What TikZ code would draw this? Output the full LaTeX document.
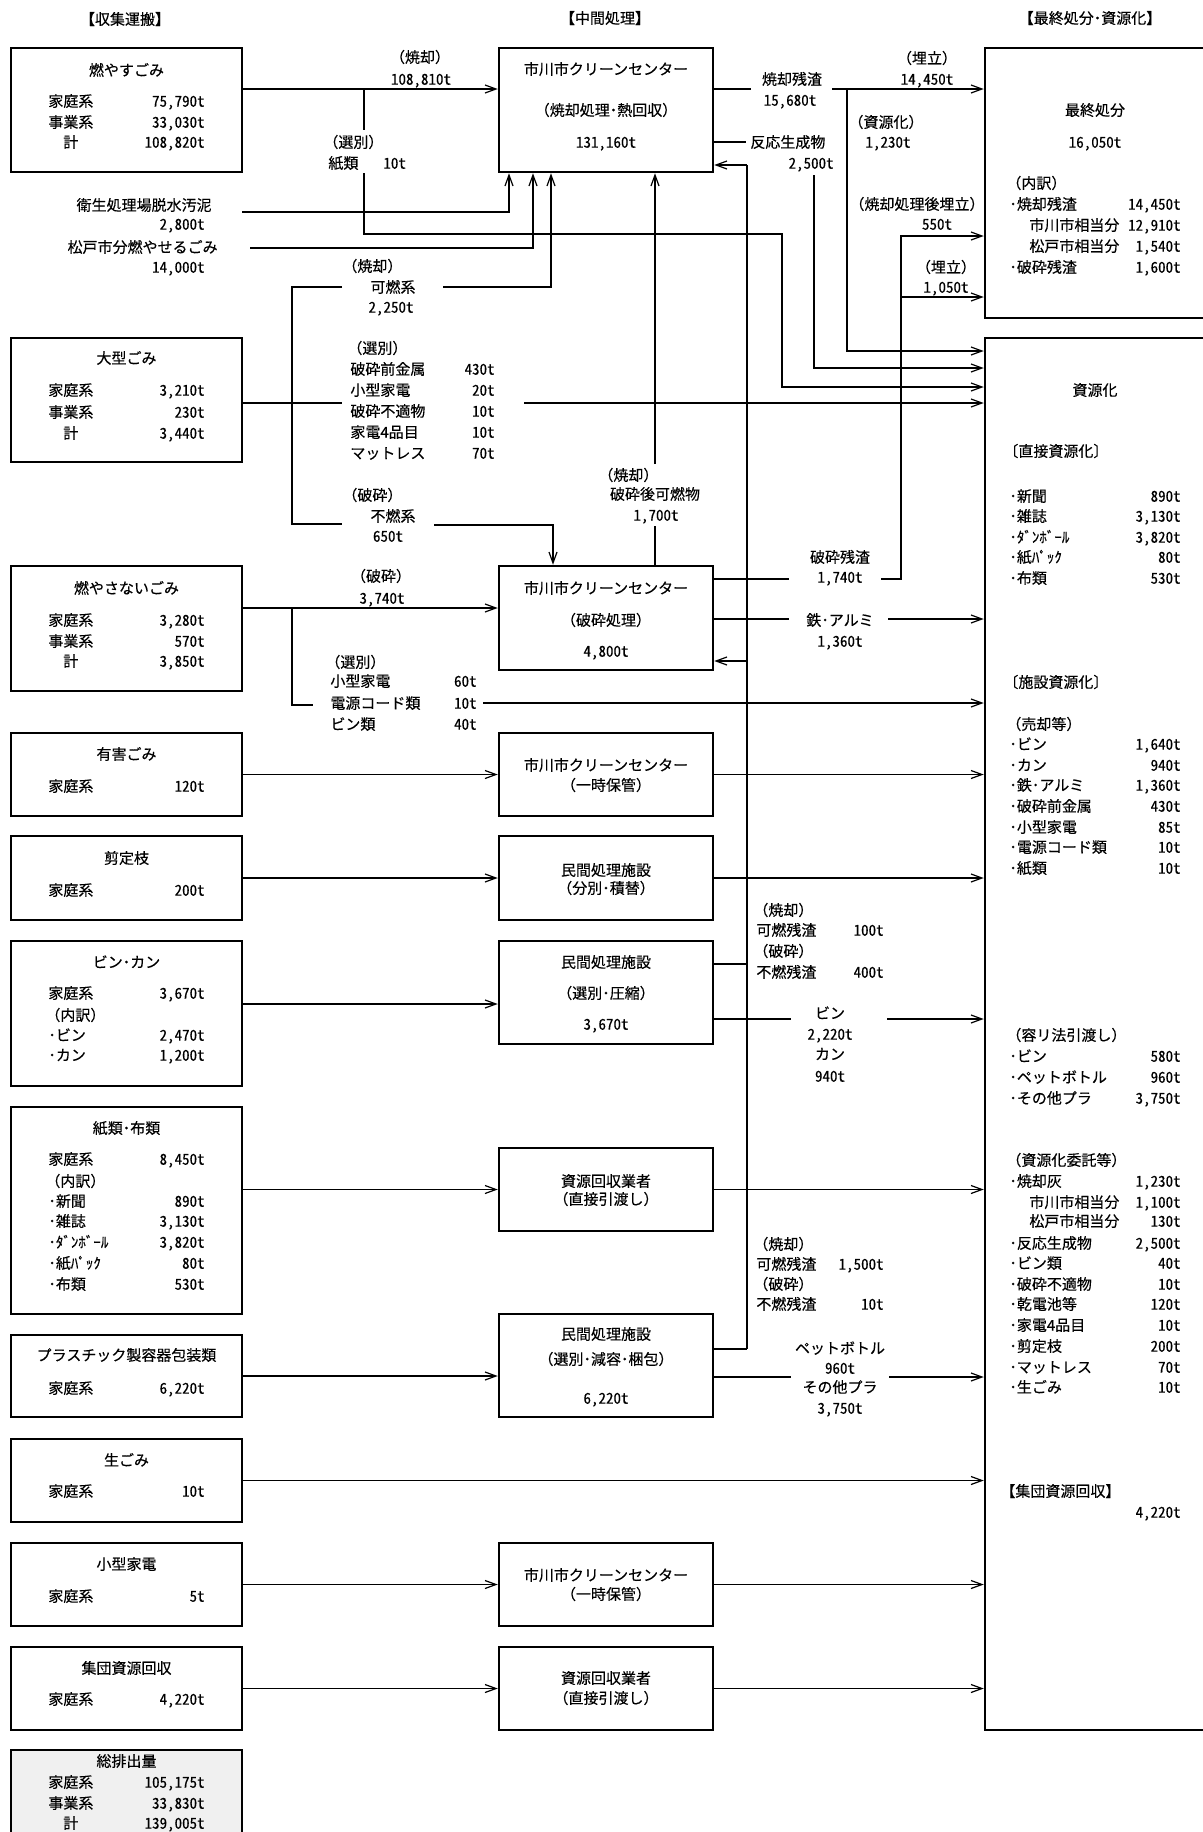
\documentclass[tikz,border=0pt]{standalone}
\usepackage{fontspec}
\setmainfont[FakeBold=0.3]{Noto Sans CJK JP}
\newfontfamily\numfont[CharacterWidth=Half,FakeBold=0.3]{Noto Sans CJK JP}
\usetikzlibrary{arrows.meta}

% box between corners (#3,#4) and (#5,#6), sheet pixels
\newcommand{\flowbox}[6][]{%
  \node[box,#1,minimum width={(#5-#3)*0.5pt},minimum height={(#6-#4)*0.5pt}]
    (#2) at ({(#3+#5)/2},{(#4+#6)/2}) {};}
% label left, tonnage right
\newcommand{\tonrow}[6]{%
  \node[anchor=west] (#1a) at (#2,#4) {#5};
  \node[num,anchor=east] (#1b) at (#3,#4) {#6};}

\begin{document}
\begin{tikzpicture}[x=0.5pt,y=-0.5pt,
  every node/.style={font=\fontsize{7.5pt}{9pt}\selectfont,inner sep=0pt,
    text height=6.6pt,text depth=0.9pt},
  num/.style={font=\fontsize{7.5pt}{9pt}\numfont},
  box/.style={draw,line width=1.25pt},
  flow/.style={line width=0.6pt},
  arr/.style={flow,-{Straight Barb[length=5.5pt,width=4pt]}}]
\useasboundingbox (0,0) rectangle (1203,1832);

% headings
\node (hcol1) at (125,19) {【収集運搬】};
\node (hcol2) at (605,18) {【中間処理】};
\node (hcol3) at (1090,18) {【最終処分･資源化】};

% collection
\flowbox{burn}{11}{48}{242}{172}
\node (burnt) at (126.5,70) {燃やすごみ};
\tonrow{burn1}{48}{205}{101}{家庭系}{75,790t}
\tonrow{burn2}{48}{205}{122}{事業系}{33,030t}
\tonrow{burn3}{63}{205}{142}{計}{108,820t}
\node[anchor=east] (sludge) at (212,205) {衛生処理場脱水汚泥};
\node[num,anchor=east] (sludgev) at (205,224) {2,800t};
\node[anchor=east] (matsudo) at (218,247) {松戸市分燃やせるごみ};
\node[num,anchor=east] (matsudov) at (205,267) {14,000t};

\flowbox{bulky}{11}{338}{242}{462}
\node (bulkyt) at (126.5,358) {大型ごみ};
\tonrow{bulky1}{48}{205}{390}{家庭系}{3,210t}
\tonrow{bulky2}{48}{205}{412}{事業系}{230t}
\tonrow{bulky3}{63}{205}{433}{計}{3,440t}

\flowbox{nonburn}{11}{566}{242}{691}
\node (nonburnt) at (126.5,588) {燃やさないごみ};
\tonrow{nonburn1}{48}{205}{620}{家庭系}{3,280t}
\tonrow{nonburn2}{48}{205}{641}{事業系}{570t}
\tonrow{nonburn3}{63}{205}{661}{計}{3,850t}

\flowbox{hazard}{11}{733}{242}{816}
\node (hazardt) at (126.5,754) {有害ごみ};
\tonrow{hazard1}{48}{205}{786}{家庭系}{120t}

\flowbox{prune}{11}{836}{242}{920}
\node (prunet) at (126.5,858) {剪定枝};
\tonrow{prune1}{48}{205}{890}{家庭系}{200t}

\flowbox{bottle}{11}{941}{242}{1086}
\node (bottlet) at (126.5,962) {ビン･カン};
\tonrow{bottle1}{48}{205}{993}{家庭系}{3,670t}
\node[anchor=west] (bottle2a) at (45,1015) {（内訳）};
\tonrow{bottle3}{48}{205}{1035}{･ビン}{2,470t}
\tonrow{bottle4}{48}{205}{1055}{･カン}{1,200t}

\flowbox{paper}{11}{1107}{242}{1314}
\node (papert) at (126.5,1128) {紙類･布類};
\tonrow{paper1}{48}{205}{1159}{家庭系}{8,450t}
\node[anchor=west] (paper2a) at (45,1181) {（内訳）};
\tonrow{paper3}{48}{205}{1201}{･新聞}{890t}
\tonrow{paper4}{48}{205}{1221}{･雑誌}{3,130t}
\tonrow{paper5}{48}{205}{1242}{･ﾀﾞﾝﾎﾞｰﾙ}{3,820t}
\tonrow{paper6}{48}{205}{1263}{･紙ﾊﾟｯｸ}{80t}
\tonrow{paper7}{48}{205}{1284}{･布類}{530t}

\flowbox{plastic}{11}{1335}{242}{1417}
\node (plastict) at (126.5,1355) {プラスチック製容器包装類};
\tonrow{plastic1}{48}{205}{1388}{家庭系}{6,220t}

\flowbox{food}{11}{1439}{242}{1522}
\node (foodt) at (126.5,1460) {生ごみ};
\tonrow{food1}{48}{205}{1491}{家庭系}{10t}

\flowbox{smallapp}{11}{1543}{242}{1626}
\node (smallappt) at (126.5,1564) {小型家電};
\tonrow{smallapp1}{48}{205}{1596}{家庭系}{5t}

\flowbox{group}{11}{1647}{242}{1730}
\node (groupt) at (126.5,1668) {集団資源回収};
\tonrow{group1}{48}{205}{1699}{家庭系}{4,220t}

\flowbox[fill=black!6]{total}{11}{1750}{242}{1846}
\node (totalt) at (126.5,1761) {総排出量};
\tonrow{total1}{48}{205}{1782}{家庭系}{105,175t}
\tonrow{total2}{48}{205}{1803}{事業系}{33,830t}
\tonrow{total3}{63}{205}{1823}{計}{139,005t}

% intermediate treatment
\flowbox{incin}{499}{48}{713}{172}
\node (incint) at (606,69) {市川市クリーンセンター};
\node (incinm) at (606,110) {（焼却処理･熱回収）};
\node[num] (incinv) at (606,142) {131,160t};

\flowbox{crush}{499}{566}{713}{670}
\node (crusht) at (606,588) {市川市クリーンセンター};
\node (crushm) at (606,620) {（破砕処理）};
\node[num] (crushv) at (606,651) {4,800t};

\flowbox{storeA}{499}{733}{713}{816}
\node (storeAt) at (606,765) {市川市クリーンセンター};
\node (storeAm) at (606,785) {（一時保管）};

\flowbox{sortA}{499}{836}{713}{920}
\node (sortAt) at (606,870) {民間処理施設};
\node (sortAm) at (606,888) {（分別･積替）};

\flowbox{sortB}{499}{941}{713}{1044}
\node (sortBt) at (606,962) {民間処理施設};
\node (sortBm) at (606,993) {（選別･圧縮）};
\node[num] (sortBv) at (606,1024) {3,670t};

\flowbox{dealerA}{499}{1148}{713}{1231}
\node (dealerAt) at (606,1181) {資源回収業者};
\node (dealerAm) at (606,1199) {（直接引渡し）};

\flowbox{sortC}{499}{1314}{713}{1417}
\node (sortCt) at (606,1334) {民間処理施設};
\node (sortCm) at (606,1359) {（選別･減容･梱包）};
\node[num] (sortCv) at (606,1398) {6,220t};

\flowbox{storeB}{499}{1543}{713}{1626}
\node (storeBt) at (606,1575) {市川市クリーンセンター};
\node (storeBm) at (606,1594) {（一時保管）};

\flowbox{dealerB}{499}{1647}{713}{1730}
\node (dealerBt) at (606,1678) {資源回収業者};
\node (dealerBm) at (606,1698) {（直接引渡し）};

% final disposal, recycling
\flowbox{landfill}{985}{48}{1220}{318}
\node (landfillt) at (1095,110) {最終処分};
\node[num] (landfillv) at (1095,142) {16,050t};
\node[anchor=west] (landfill0) at (1006,183) {（内訳）};
\tonrow{landfill1}{1009}{1181}{204}{･焼却残渣}{14,450t}
\tonrow{landfill2}{1029}{1181}{225}{市川市相当分}{12,910t}
\tonrow{landfill3}{1029}{1181}{246}{松戸市相当分}{1,540t}
\tonrow{landfill4}{1009}{1181}{267}{･破砕残渣}{1,600t}

\flowbox{recycle}{985}{338}{1220}{1730}
\node (recyclet) at (1095,390) {資源化};
\node[anchor=west] (direct) at (1003,451) {〔直接資源化〕};
\tonrow{direct1}{1009}{1181}{496}{･新聞}{890t}
\tonrow{direct2}{1009}{1181}{516}{･雑誌}{3,130t}
\tonrow{direct3}{1009}{1181}{537}{･ﾀﾞﾝﾎﾞｰﾙ}{3,820t}
\tonrow{direct4}{1009}{1181}{557}{･紙ﾊﾟｯｸ}{80t}
\tonrow{direct5}{1009}{1181}{578}{･布類}{530t}
\node[anchor=west] (plant) at (1003,682) {〔施設資源化〕};
\node[anchor=west] (sale) at (1006,724) {（売却等）};
\tonrow{sale1}{1009}{1181}{744}{･ビン}{1,640t}
\tonrow{sale2}{1009}{1181}{765}{･カン}{940t}
\tonrow{sale3}{1009}{1181}{785}{･鉄･アルミ}{1,360t}
\tonrow{sale4}{1009}{1181}{806}{･破砕前金属}{430t}
\tonrow{sale5}{1009}{1181}{827}{･小型家電}{85t}
\tonrow{sale6}{1009}{1181}{847}{･電源コード類}{10t}
\tonrow{sale7}{1009}{1181}{868}{･紙類}{10t}
\node[anchor=west] (yori) at (1006,1035) {（容リ法引渡し）};
\tonrow{yori1}{1009}{1181}{1056}{･ビン}{580t}
\tonrow{yori2}{1009}{1181}{1077}{･ペットボトル}{960t}
\tonrow{yori3}{1009}{1181}{1098}{･その他プラ}{3,750t}
\node[anchor=west] (entrust) at (1006,1160) {（資源化委託等）};
\tonrow{entrustA}{1009}{1181}{1181}{･焼却灰}{1,230t}
\tonrow{entrustB}{1029}{1181}{1202}{市川市相当分}{1,100t}
\tonrow{entrustC}{1029}{1181}{1221}{松戸市相当分}{130t}
\tonrow{entrustD}{1009}{1181}{1243}{･反応生成物}{2,500t}
\tonrow{entrustE}{1009}{1181}{1263}{･ビン類}{40t}
\tonrow{entrustF}{1009}{1181}{1284}{･破砕不適物}{10t}
\tonrow{entrustG}{1009}{1181}{1304}{･乾電池等}{120t}
\tonrow{entrustH}{1009}{1181}{1325}{･家電4品目}{10t}
\tonrow{entrustI}{1009}{1181}{1346}{･剪定枝}{200t}
\tonrow{entrustJ}{1009}{1181}{1367}{･マットレス}{70t}
\tonrow{entrustK}{1009}{1181}{1387}{･生ごみ}{10t}
\node[anchor=west] (groupr) at (1000,1491) {【集団資源回収】};
\node[num,anchor=east] (grouprv) at (1181,1512) {4,220t};

% flow labels
\node (burnl1) at (420,57) {（焼却）};
\node[num] (burnl2) at (421,79) {108,810t};
\node[anchor=west] (kamil1) at (323,142) {（選別）};
\node[anchor=west] (kamil2) at (328,163) {紙類};
\node[num,anchor=west] (kamil3) at (383,163) {10t};
\node[anchor=west] (kanenl1) at (342,266) {（焼却）};
\node (kanenl2) at (393,287) {可燃系};
\node[num] (kanenl3) at (391,307) {2,250t};
\node[anchor=west] (bulkyl0) at (347,348) {（選別）};
\tonrow{bulkyl1}{350}{495}{369}{破砕前金属}{430t}
\tonrow{bulkyl2}{350}{495}{390}{小型家電}{20t}
\tonrow{bulkyl3}{350}{495}{411}{破砕不適物}{10t}
\tonrow{bulkyl4}{350}{495}{432}{家電4品目}{10t}
\tonrow{bulkyl5}{350}{495}{453}{マットレス}{70t}
\node[anchor=west] (funenl1) at (342,495) {（破砕）};
\node (funenl2) at (393,516) {不燃系};
\node[num] (funenl3) at (388,536) {650t};
\node (nbl1) at (381,576) {（破砕）};
\node[num] (nbl2) at (382,598) {3,740t};
\node[anchor=west] (nbl3) at (325,662) {（選別）};
\tonrow{nbl4}{330}{477}{681}{小型家電}{60t}
\tonrow{nbl5}{330}{477}{703}{電源コード類}{10t}
\tonrow{nbl6}{330}{477}{724}{ビン類}{40t}
\node (ashl1) at (792,79) {焼却残渣};
\node[num] (ashl2) at (790,100) {15,680t};
\node (ashl3) at (927,58) {（埋立）};
\node[num] (ashl4) at (927,79) {14,450t};
\node (ashl5) at (886,122) {（資源化）};
\node[num] (ashl6) at (888,142) {1,230t};
\node[anchor=west] (reacl1) at (750,142) {反応生成物};
\node[num,anchor=east] (reacl2) at (834,163) {2,500t};
\node (resl1) at (917,204) {（焼却処理後埋立）};
\node[num] (resl2) at (937,224) {550t};
\node (resl3) at (946,267) {（埋立）};
\node[num] (resl4) at (946,287) {1,050t};
\node[anchor=west] (combl1) at (598,475) {（焼却）};
\node (combl2) at (655,494) {破砕後可燃物};
\node[num] (combl3) at (656,515) {1,700t};
\node (resl5) at (840,557) {破砕残渣};
\node[num] (resl6) at (840,577) {1,740t};
\node (fel1) at (840,620) {鉄･アルミ};
\node[num] (fel2) at (840,641) {1,360t};
\node[anchor=west] (rsdA1) at (753,910) {（焼却）};
\tonrow{rsdA2}{756}{884}{930}{可燃残渣}{100t}
\node[anchor=west] (rsdA3) at (753,951) {（破砕）};
\tonrow{rsdA4}{756}{884}{972}{不燃残渣}{400t}
\node (binl1) at (830,1013) {ビン};
\node[num] (binl2) at (830,1034) {2,220t};
\node (binl3) at (830,1054) {カン};
\node[num] (binl4) at (830,1076) {940t};
\node[anchor=west] (rsdB1) at (753,1244) {（焼却）};
\tonrow{rsdB2}{756}{884}{1264}{可燃残渣}{1,500t}
\node[anchor=west] (rsdB3) at (753,1284) {（破砕）};
\tonrow{rsdB4}{756}{884}{1304}{不燃残渣}{10t}
\node (petl1) at (840,1348) {ペットボトル};
\node[num] (petl2) at (840,1368) {960t};
\node (petl3) at (840,1387) {その他プラ};
\node[num] (petl4) at (840,1408) {3,750t};

% junctions and loose ends
\coordinate (kamiA) at (364,89);
\coordinate (kamiB) at (364,130);
\coordinate (kamiC) at (364,173);
\coordinate (kamiD) at (782,234);
\coordinate (kamiE) at (782,387);
\coordinate (sanA) at (242,212);
\coordinate (sanB) at (509,212);
\coordinate (matA) at (250,248);
\coordinate (matB) at (533,248);
\coordinate (trunkT) at (292,287);
\coordinate (trunkB) at (292,524);
\coordinate (kanenL) at (342,287);
\coordinate (funenL) at (342,524);
\coordinate (kanenR) at (443,287);
\coordinate (kanenB) at (551,287);
\coordinate (funenR) at (434,525);
\coordinate (funenB) at (553,525);
\coordinate (bulkyE) at (342,403);
\coordinate (bulkyS) at (524,403);
\coordinate (nbJ) at (292,608);
\coordinate (nbE) at (313,705);
\coordinate (cordS) at (483,703);
\coordinate (ashA) at (751,89);
\coordinate (ashB) at (832,89);
\coordinate (ashJ) at (847,89);
\coordinate (ashR) at (847,351);
\coordinate (reacA) at (746,142);
\coordinate (reacB) at (814,175);
\coordinate (reacR) at (814,368);
\coordinate (retT) at (747,165);
\coordinate (retC) at (747,661);
\coordinate (retM) at (747,964);
\coordinate (retB) at (747,1349);
\coordinate (combT) at (655,464);
\coordinate (combB) at (655,526);
\coordinate (resA) at (789,579);
\coordinate (resB) at (881,579);
\coordinate (resT) at (901,236);
\coordinate (resM) at (901,297);
\coordinate (feA) at (789,619);
\coordinate (feB) at (888,619);
\coordinate (bottleY) at (242,1004);
\coordinate (binA) at (791,1019);
\coordinate (binB) at (887,1019);
\coordinate (petA) at (791,1377);
\coordinate (petB) at (889,1377);

% connectors
\draw[arr] (burn.east |- kamiA) -- (incin.west |- kamiA);
\draw[flow] (kamiA) -- (kamiB);
\draw[arr] (kamiC) |- (kamiD) |- (recycle.west |- kamiE);
\draw[arr] (sanA) -| (incin.south -| sanB);
\draw[arr] (matA) -| (incin.south -| matB);
\draw[flow] (kanenL) -- (trunkT) -- (trunkB) -- (funenL);
\draw[flow] (bulky.east |- bulkyE) -- (bulkyE);
\draw[arr] (kanenR) -| (incin.south -| kanenB);
\draw[arr] (funenR) -| (crush.north -| funenB);
\draw[arr] (bulkyS) -- (recycle.west |- bulkyS);
\draw[arr] (nonburn.east |- nbJ) -- (crush.west |- nbJ);
\draw[flow] (nbJ) |- (nbE);
\draw[arr] (cordS) -- (recycle.west |- cordS);
\draw[arr] (hazard) -- (storeA);
\draw[arr] (storeA) -- (recycle.west |- storeA);
\draw[arr] (prune) -- (sortA);
\draw[arr] (sortA) -- (recycle.west |- sortA);
\draw[arr] (bottle.east |- bottleY) -- (sortB.west |- bottleY);
\draw[flow] (sortB.east |- retM) -- (retM);
\draw[flow] (sortB.east |- binA) -- (binA);
\draw[arr] (binB) -- (recycle.west |- binB);
\draw[arr] (paper.east |- dealerA) -- (dealerA);
\draw[arr] (dealerA) -- (recycle.west |- dealerA);
\draw[arr] (plastic) -- (sortC.west |- plastic);
\draw[flow] (sortC.east |- retB) -- (retB);
\draw[flow] (sortC.east |- petA) -- (petA);
\draw[arr] (petB) -- (recycle.west |- petB);
\draw[arr] (food) -- (recycle.west |- food);
\draw[arr] (smallapp) -- (storeB);
\draw[arr] (storeB) -- (recycle.west |- storeB);
\draw[arr] (group) -- (dealerB);
\draw[arr] (dealerB) -- (recycle.west |- dealerB);
% back to the plants
\draw[flow] (retB) -- (retT);
\draw[arr] (retT) -- (incin.east |- retT);
\draw[arr] (retC) -- (crush.east |- retC);
\draw[arr] (combT) -- (incin.south -| combT);
\draw[flow] (crush.north -| combB) -- (combB);
% out of the plants
\draw[flow] (incin.east |- ashA) -- (ashA);
\draw[arr] (ashB) -- (landfill.west |- ashB);
\draw[arr] (ashJ) |- (recycle.west |- ashR);
\draw[flow] (incin.east |- reacA) -- (reacA);
\draw[arr] (reacB) |- (recycle.west |- reacR);
\draw[flow] (crush.east |- resA) -- (resA);
\draw[arr] (resB) -| (resT) -- (landfill.west |- resT);
\draw[arr] (resM) -- (landfill.west |- resM);
\draw[flow] (crush.east |- feA) -- (feA);
\draw[arr] (feB) -- (recycle.west |- feB);
\end{tikzpicture}
\end{document}
